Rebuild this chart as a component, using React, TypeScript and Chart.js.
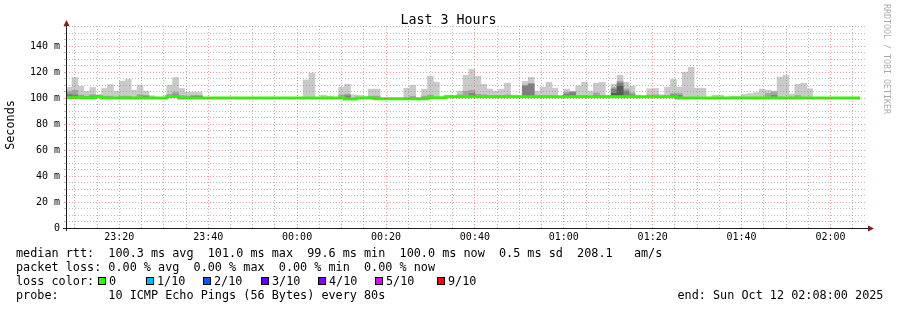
import React, { useEffect, useRef } from 'react';
import { Chart, registerables } from 'chart.js';

Chart.register(...registerables);

const N = null;

// ---- text ----
const TITLE = 'Last 3 Hours';
const Y_AXIS_TITLE = 'Seconds';
const WATERMARK = 'RRDTOOL / TOBI OETIKER';
const START_TIME = '23:08';
const STEP_SECONDS = 80;
const SPAN_MINUTES = 180;
const Y_MAX = 155.5;

const xTickLabels = ['23:20', '23:40', '00:00', '00:20', '00:40', '01:00', '01:20', '01:40', '02:00'];
const yTickValues = [0, 20, 40, 60, 80, 100, 120, 140];
const yTickLabels = ['0', '20 m', '40 m', '60 m', '80 m', '100 m', '120 m', '140 m'];

// ---- data (ms), one value per 80 s step starting 23:08 ----
const medianRtt: (number | null)[] = [
  100.2, 100.2, 100.2, 100.2, 100.2, 101.2, 100, 100, 100, 100,
  100, 100, 100, 100, 100, 100, 100, 101.3, 101.3, 100,
  100, 100, 100, 100, 100, 100, 100, 100, 100, 100,
  100, 100, 100, 100, 100, 100, 100, 100, 100, 100,
  100, 100, 100, 100, 100, 100, 100, 99.4, 99.4, 100.1,
  100.1, 100.1, 99.5, 99.5, 99.5, 99.5, 99.5, 99.5, 99.5, 99.5,
  99.5, 100.2, 100.2, 100.2, 101, 101, 101, 101, 101, 101,
  101, 101, 101, 101, 101, 101, 101, 101, 101, 101,
  101, 101, 101, 101, 101, 101, 101, 101, 101, 101,
  101, 101, 101, 101, 101, 101, 101, 101, 101, 101,
  101, 101, 101, 100, 100, 100, 100, 100, 100, 100,
  100, 100, 100, 100, 100, 100, 100, 100, 100, 100,
  100, 100, 100, 100, 100, 100, 100, 100, 100, 100,
  100, 100, 100, 100, N,
];

// outermost smoke (max ping)
const smokeMax: (number | null)[] = [
  108.2, 115.8, 109.2, 105.3, 108.2, 102.8, 107.4, 110.4, 105.3, 113,
  114.5, 106.1, 110, 105.3, 101.8, N, N, 110, 115.8, 107.4,
  104.6, 104.6, 104.6, N, N, N, N, N, N, N,
  N, N, N, N, N, N, N, N, N, N,
  114, 119.1, N, 102.3, 101.5, N, 108.4, 110.7, 102.5, 102,
  101.5, 106.9, 106.9, N, N, N, N, 107.6, 109.9, N,
  106.9, 116.8, 112.2, N, 102.3, 101.8, 105.3, 117.6, 122.1, 116.8,
  110.7, 106.9, 105.3, 106.9, 111.5, 102.3, 101.8, 113, 116, 105.3,
  108.4, 112.2, 107.6, N, 106.9, 105.3, 109.2, 112.2, 105.3, 111.5,
  112.2, 102.3, 110.7, 117.6, 112.2, 109.2, 102.3, N, 107.2, 107.4,
  102.6, 108.5, 114.5, 108.5, 120, 123.8, 107.6, 107.6, N, 102.3,
  102.3, N, 101.5, 101.5, 102.8, 103.5, 104.3, 106.9, 106.1, 105.5,
  116.2, 117.6, 103.2, 110.7, 111.5, 107.2, N, N, N, N,
  N, N, N, N, N,
];

const smokeBand2: (number | null)[] = [
  105, 106, 102.3, 101.5, 102.6, 101.5, 101.5, 101.5, N, 101.5,
  101.5, N, 102.6, 102, N, N, N, 102.8, 104.6, 102,
  101.5, 101.5, 101.5, N, N, N, N, N, N, N,
  N, N, N, N, N, N, N, N, N, N,
  N, N, N, N, N, N, 102.5, 103, N, N,
  N, 101.5, 101.5, N, N, N, N, N, 101.5, N,
  101.5, 102.3, N, N, N, N, 102.5, 105.3, 106, 103,
  102.5, 102, 102, 102, 102.5, N, N, 110, 111.5, 102,
  102, 102, N, N, 104.6, 105, 102, 102, N, 104,
  102, N, 108, 113, 107, 104, N, N, 102.3, 102.5,
  N, 102, 103.5, 103.5, N, N, N, N, N, N,
  N, N, N, N, N, N, N, N, 103.5, 104.6,
  N, N, N, 102, N, N, N, N, N, N,
  N, N, N, N, N,
];

const smokeBand3: (number | null)[] = [
  103, 102.5, N, N, 101.5, N, N, N, N, N,
  N, N, N, 101.5, N, N, N, N, 102.5, N,
  N, 101.7, 101.7, N, N, N, N, N, N, N,
  N, N, N, N, N, N, N, N, N, N,
  N, N, N, N, N, N, N, 101.8, N, N,
  N, N, N, N, N, N, N, N, N, N,
  N, N, N, N, N, N, N, N, 103.5, N,
  N, N, N, N, N, N, N, 109.2, 110.7, N,
  N, N, N, N, 103, 104.3, N, N, N, 102,
  N, N, 106.9, 111.5, 105.3, 102.5, N, N, N, N,
  N, N, 102.5, 102, N, N, N, N, N, N,
  N, N, N, N, N, N, N, N, N, 102,
  N, N, N, N, N, N, N, N, N, N,
  N, N, N, N, N,
];

const smokeBand4: (number | null)[] = [
  N, N, N, N, N, N, N, N, N, N,
  N, N, N, N, N, N, N, N, N, N,
  N, N, N, N, N, N, N, N, N, N,
  N, N, N, N, N, N, N, N, N, N,
  N, N, N, N, N, N, N, N, N, N,
  N, N, N, N, N, N, N, N, N, N,
  N, N, N, N, N, N, N, N, N, N,
  N, N, N, N, N, N, N, N, N, N,
  N, N, N, N, N, N, N, N, N, N,
  N, N, 103.5, 109.2, N, N, N, N, N, N,
  N, N, N, N, N, N, N, N, N, N,
  N, N, N, N, N, N, N, N, N, N,
  N, N, N, N, N, N, N, N, N, N,
  N, N, N, N, N,
];

// ---- legend ----
const legendMedian = 'median rtt:  100.3 ms avg  101.0 ms max  99.6 ms min  100.0 ms now  0.5 ms sd  208.1   am/s';
const legendLoss = 'packet loss: 0.00 % avg  0.00 % max  0.00 % min  0.00 % now';
const legendLossColorTitle = 'loss color:';
const lossColorLabels = ['0', '1/10', '2/10', '3/10', '4/10', '5/10', '9/10'];
const lossColors = ['#26ff00', '#00b8ff', '#0059ff', '#5e00ff', '#7e00ff', '#dd00ff', '#ff0000'];
const legendProbeTitle = 'probe:';
const legendProbe = '10 ICMP Echo Pings (56 Bytes) every 80s';
const legendEnd = 'end: Sun Oct 12 02:08:00 2025';

// ---- style / layout ----
const MONO = '"DejaVu Sans Mono", monospace';
const GRID = 'rgba(143,143,143,0.6)';
const MGRID = 'rgba(222,79,79,0.55)';
const AXIS = '#1f1f1f';
const ARROW = 'rgb(128,31,31)';
const SMOKE_COLORS = ['#cacaca', '#a4a4a4', '#7e7e7e', '#585858'];
const LOSS_BOX_X = [98, 146, 203, 261, 318, 375, 437];

const toMinutes = (hhmm: string) => {
  const [h, m] = hhmm.split(':').map(Number);
  const [sh, sm] = START_TIME.split(':').map(Number);
  return (h * 60 + m - (sh * 60 + sm) + 1440) % 1440;
};
const STEP_MIN = STEP_SECONDS / 60;
const majorX = new Map<number, string>(xTickLabels.map((l) => [toMinutes(l), l]));
const yLabelAt = new Map<number, string>(yTickValues.map((v, i) => [v, yTickLabels[i]]));

const xGrid: number[] = [];
{
  const [sh, sm] = START_TIME.split(':').map(Number);
  const first = (5 - ((sh * 60 + sm) % 5)) % 5;
  for (let v = first; v <= SPAN_MINUTES; v += 5) xGrid.push(v);
}
const yGrid: number[] = [];
for (let v = 0; v <= Y_MAX; v += 5) yGrid.push(v);

const bandData = (arr: (number | null)[]) =>
  arr.map((v, i) => ({
    x: (i + 0.5) * STEP_MIN,
    y: v == null || medianRtt[i] == null ? null : [medianRtt[i] as number, v],
  }));

const medianLine = (() => {
  const pts: { x: number; y: number }[] = [];
  let last: number | null = null;
  let lastIdx = -1;
  medianRtt.forEach((v, i) => {
    if (v != null) {
      pts.push({ x: i * STEP_MIN, y: v });
      last = v;
      lastIdx = i;
    }
  });
  if (last != null) pts.push({ x: (lastIdx + 1) * STEP_MIN, y: last });
  return pts;
})();

const decor = {
  id: 'rrdDecor',
  afterDraw(chart: any) {
    const ctx: CanvasRenderingContext2D = chart.ctx;
    const { left, right, top, bottom } = chart.chartArea;
    ctx.save();
    // axes
    ctx.strokeStyle = AXIS;
    ctx.lineWidth = 1;
    ctx.beginPath();
    ctx.moveTo(left - 3, bottom + 0.5);
    ctx.lineTo(right + 3, bottom + 0.5);
    ctx.moveTo(left + 0.5, bottom + 3);
    ctx.lineTo(left + 0.5, top);
    ctx.stroke();
    // arrows
    ctx.fillStyle = ARROW;
    ctx.beginPath();
    ctx.moveTo(left + 0.5, top - 6);
    ctx.lineTo(left - 2.5, top);
    ctx.lineTo(left + 3.5, top);
    ctx.closePath();
    ctx.fill();
    ctx.beginPath();
    ctx.moveTo(right + 8, bottom + 0.5);
    ctx.lineTo(right + 2, bottom - 2.5);
    ctx.lineTo(right + 2, bottom + 3.5);
    ctx.closePath();
    ctx.fill();

    ctx.fillStyle = '#000';
    // title
    ctx.font = `13.3px ${MONO}`;
    ctx.textAlign = 'center';
    ctx.textBaseline = 'alphabetic';
    ctx.fillText(TITLE, 448.5, 23.5);

    // y title
    ctx.save();
    ctx.font = `11.8px ${MONO}`;
    ctx.translate(10.5, 125);
    ctx.rotate(-Math.PI / 2);
    ctx.textAlign = 'center';
    ctx.textBaseline = 'middle';
    ctx.fillText(Y_AXIS_TITLE, 0, 0);
    ctx.restore();

    // watermark
    ctx.save();
    ctx.font = `8.3px ${MONO}`;
    ctx.fillStyle = 'rgba(0,0,0,0.35)';
    ctx.translate(886.5, 59);
    ctx.rotate(Math.PI / 2);
    ctx.textAlign = 'center';
    ctx.textBaseline = 'middle';
    ctx.fillText(WATERMARK, 0, 0);
    ctx.restore();

    // legend
    ctx.font = `11.8px ${MONO}`;
    ctx.textAlign = 'left';
    ctx.textBaseline = 'alphabetic';
    const lx = 16;
    ctx.fillText(legendMedian, lx, 257);
    ctx.fillText(legendLoss, lx, 271);
    ctx.fillText(legendLossColorTitle, lx, 285);
    lossColorLabels.forEach((lab, i) => {
      const bx = LOSS_BOX_X[i];
      ctx.fillStyle = lossColors[i];
      ctx.fillRect(bx, 277, 8, 8);
      ctx.strokeStyle = '#000';
      ctx.strokeRect(bx + 0.5, 277.5, 7, 7);
      ctx.fillStyle = '#000';
      ctx.fillText(lab, bx + 11, 285);
    });
    ctx.fillText(legendProbeTitle, lx, 299);
    const cw = ctx.measureText('0').width;
    ctx.fillText(legendProbe, lx + 13 * cw, 299);
    ctx.fillText(legendEnd, 677.5, 299);
    ctx.restore();
  },
};

export default function App() {
  const ref = useRef<HTMLCanvasElement>(null);
  useEffect(() => {
    const canvas = ref.current;
    if (!canvas) return;
    const tickFont = { family: MONO, size: 10 };
    const chart = new Chart(canvas, {
      type: 'bar',
      data: {
        datasets: [
          {
            type: 'line',
            label: 'median',
            data: medianLine as any,
            borderColor: '#26ff00',
            borderWidth: 3,
            pointRadius: 0,
            stepped: true,
            fill: false,
            order: 0,
          } as any,
          ...[smokeBand4, smokeBand3, smokeBand2, smokeMax].map((arr, k) => ({
            type: 'bar',
            label: `smoke${k}`,
            data: bandData(arr) as any,
            backgroundColor: SMOKE_COLORS[3 - k],
            borderWidth: 0,
            barPercentage: 1,
            categoryPercentage: 1,
            grouped: false,
            order: k + 1,
          })),
        ],
      },
      options: {
        responsive: false,
        animation: false,
        devicePixelRatio: 1,
        events: [],
        layout: { padding: { left: 0, right: 31, top: 26, bottom: 0 } },
        plugins: { legend: { display: false }, title: { display: false }, tooltip: { enabled: false } },
        scales: {
          x: {
            type: 'linear',
            min: 0,
            max: SPAN_MINUTES,
            offset: false,
            afterBuildTicks: (s: any) => {
              s.ticks = xGrid.map((v) => ({ value: v }));
            },
            afterFit: (s: any) => {
              s.height = 82;
            },
            ticks: {
              autoSkip: false,
              maxRotation: 0,
              padding: 3,
              color: '#000',
              font: tickFont,
              callback: (v: any) => majorX.get(Number(v)) ?? '',
            },
            grid: {
              z: 1,
              offset: false,
              drawTicks: false,
              lineWidth: 1,
              color: (c: any) => (majorX.has(c.tick?.value) ? MGRID : GRID),
            },
            border: { display: false, dash: [1, 2] },
          },
          y: {
            type: 'linear',
            min: 0,
            max: Y_MAX,
            afterBuildTicks: (s: any) => {
              s.ticks = yGrid.map((v) => ({ value: v }));
            },
            afterFit: (s: any) => {
              s.width = 66;
            },
            ticks: {
              autoSkip: false,
              padding: 4,
              color: '#000',
              font: tickFont,
              callback: (v: any) => yLabelAt.get(Number(v)) ?? '',
            },
            grid: {
              z: 1,
              drawTicks: true,
              tickLength: 2,
              lineWidth: 1,
              color: (c: any) => (c.tick && c.tick.value % 20 === 0 ? MGRID : GRID),
              tickColor: (c: any) => (c.tick && c.tick.value % 20 === 0 ? MGRID : GRID),
            },
            border: { display: false, dash: [1, 2] },
          },
        },
      } as any,
      plugins: [decor],
    });
    return () => chart.destroy();
  }, []);
  return (
    <div style={{ position: 'absolute', left: 0, top: 0, width: 897, height: 310, background: '#fff' }}>
      <canvas ref={ref} width={897} height={310} style={{ display: 'block', width: 897, height: 310 }} />
    </div>
  );
}
